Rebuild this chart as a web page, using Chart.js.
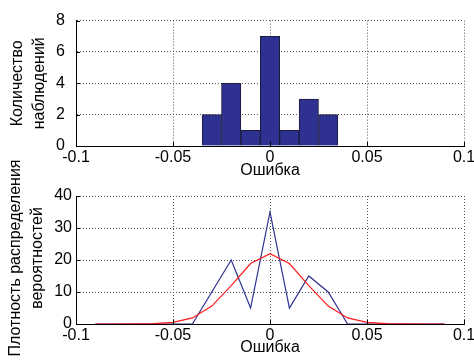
<!DOCTYPE html>
<html>
<head>
<meta charset="utf-8">
<script src="https://cdn.jsdelivr.net/npm/chart.js@4/dist/chart.umd.min.js"></script>
<style>
  html, body { margin: 0; padding: 0; background: #fff; }
  #wrap { position: relative; width: 474px; height: 360px; }
  #wrap canvas { position: absolute; left: 0; top: 0; }
</style>
</head>
<body>
<div id="wrap">
  <canvas id="hist" width="474" height="360"></canvas>
  <canvas id="pdf" width="474" height="360"></canvas>
</div>
<script>
// Histogram: bin centres and counts
const binCenters = [-0.03, -0.02, -0.01, 0, 0.01, 0.02, 0.03];
const binCounts  = [2, 4, 1, 7, 1, 3, 2];

// Density: sample points, empirical density and fitted normal curve
const densityX = [-0.09, -0.08, -0.07, -0.06, -0.05, -0.04, -0.03, -0.02, -0.01, 0,
                  0.01, 0.02, 0.03, 0.04, 0.05, 0.06, 0.07, 0.08, 0.09];
const empirical = [0, 0, 0, 0, 0, 0, 10, 20, 5, 35, 5, 15, 10, 0, 0, 0, 0, 0, 0];
const normalFit = [0, 0, 0.01, 0.09, 0.5, 1.9, 5.6, 12, 18.9, 22,
                   18.9, 12, 5.6, 1.9, 0.5, 0.09, 0.01, 0, 0];

const xTicks = [-0.1, -0.05, 0, 0.05, 0.1];

const FONT = { family: "'Liberation Sans', Arial, sans-serif", size: 16 };
const INK = "#000";
const GRID = "#555";

// rotated two-line y label + short inward tick marks on both axes
const decor = {
  id: "decor",
  afterDraw(chart, args, opts) {
    const { ctx, chartArea: a, scales } = chart;
    ctx.save();
    ctx.strokeStyle = INK;
    ctx.lineWidth = 1;
    ctx.beginPath();
    scales.y.ticks.forEach(t => {
      const y = Math.round(scales.y.getPixelForValue(t.value)) + 0.5;
      ctx.moveTo(a.left, y); ctx.lineTo(a.left + 4, y);
    });
    scales.x.ticks.forEach(t => {
      const x = Math.round(scales.x.getPixelForValue(t.value)) + 0.5;
      ctx.moveTo(x, a.bottom); ctx.lineTo(x, a.bottom - 4);
    });
    ctx.stroke();

    const cy = (a.top + a.bottom) / 2 + (opts.dy || 0);
    ctx.fillStyle = INK;
    ctx.font = FONT.size + "px " + FONT.family;
    ctx.textAlign = "center";
    ctx.textBaseline = "middle";
    opts.lines.forEach((line, i) => {
      ctx.save();
      ctx.translate(opts.xs[i], cy);
      ctx.rotate(-Math.PI / 2);
      ctx.fillText(line, 0, 0);
      ctx.restore();
    });
    ctx.restore();
  }
};

function xScale(height, titlePadBottom) {
  return {
    type: "linear",
    min: -0.1, max: 0.1,
    offset: false,
    afterBuildTicks: s => { s.ticks = xTicks.map(v => ({ value: v })); },
    afterFit: s => { s.height = height; s.paddingRight = 10; },
    grid: { color: GRID, lineWidth: 1, drawTicks: false, offset: false },
    border: { display: true, color: INK, width: 1, dash: [1, 2] },
    ticks: {
      color: INK, font: FONT, padding: 2, maxRotation: 0,
      callback: v => String(+v.toFixed(2))
    },
    title: { display: true, text: "Ошибка", color: INK, font: FONT, padding: { top: 0, bottom: titlePadBottom } }
  };
}

function yScale(max, step, pad) {
  return {
    min: 0, max: max,
    afterFit: s => { s.width = 76; },
    grid: { color: GRID, lineWidth: 1, drawTicks: false },
    border: { display: true, color: INK, width: 1, dash: [1, 2] },
    ticks: { color: INK, font: FONT, stepSize: step, padding: pad }
  };
}

const quiet = { legend: { display: false }, tooltip: { enabled: false } };

new Chart(document.getElementById("hist"), {
  type: "bar",
  data: {
    datasets: [{
      data: binCenters.map((x, i) => ({ x: x, y: binCounts[i] })),
      backgroundColor: "#2e3192",
      borderColor: "#1c1c3a",
      borderWidth: 1,
      barPercentage: 1,
      categoryPercentage: 1
    }]
  },
  options: {
    responsive: false, animation: false, events: [],
    layout: { padding: { top: 19, right: 10, bottom: 180, left: 0 } },
    scales: { x: xScale(34, 0), y: yScale(8, 2, 11) },
    plugins: Object.assign({}, quiet, {
      decor: { lines: ["Количество", "наблюдений"], xs: [18, 40] }
    })
  },
  plugins: [decor]
});

new Chart(document.getElementById("pdf"), {
  type: "line",
  data: {
    datasets: [
      {
        data: densityX.map((x, i) => ({ x: x, y: normalFit[i] })),
        borderColor: "#ff1a1a", borderWidth: 1.2, pointRadius: 0, tension: 0, order: 0
      },
      {
        data: densityX.map((x, i) => ({ x: x, y: empirical[i] })),
        borderColor: "#2e3192", borderWidth: 1.2, pointRadius: 0, tension: 0, order: 1
      }
    ]
  },
  options: {
    responsive: false, animation: false, events: [],
    layout: { padding: { top: 196, right: 10, bottom: 0, left: 0 } },
    scales: { x: xScale(36, 3), y: yScale(40, 10, 4) },
    plugins: Object.assign({}, quiet, {
      decor: { lines: ["Плотность распределения", "вероятностей"], xs: [16, 38], dy: -2 }
    })
  },
  plugins: [decor]
});
</script>
</body>
</html>
